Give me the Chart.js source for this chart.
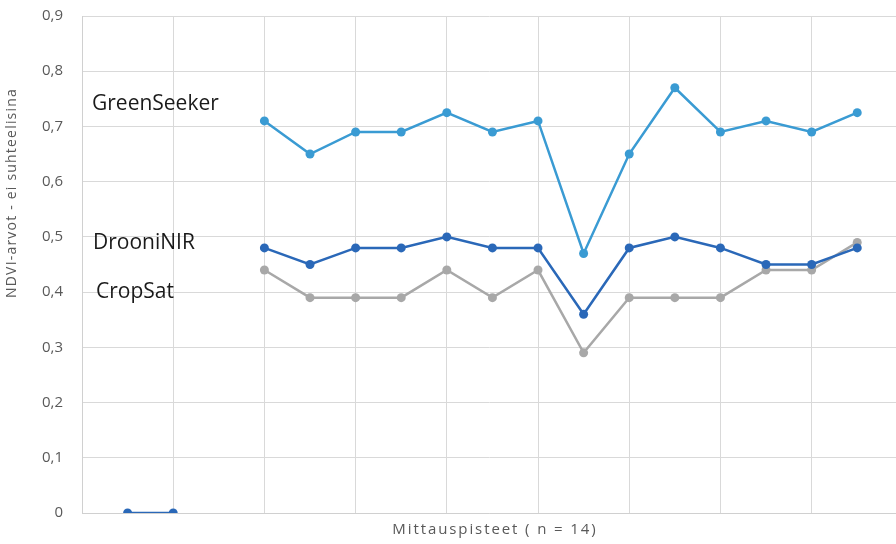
<!DOCTYPE html>
<html>
<head>
<meta charset="utf-8">
<script src="https://cdn.jsdelivr.net/npm/chart.js@4/dist/chart.umd.min.js"></script>
<style>
  html, body { margin: 0; padding: 0; background: #fff; }
  #wrap { width: 896px; height: 544px; }
</style>
</head>
<body>
<div id="wrap"><canvas id="lineChart" width="896" height="544"></canvas></div>
<script>
// mittauspisteet (0 ja 1 = nollapisteet, 3..16 = 14 mittausta)
var pisteet = [0, 1, 2, 3, 4, 5, 6, 7, 8, 9, 10, 11, 12, 13, 14, 15, 16];
var greenSeeker = [null, null, null, 0.71, 0.65, 0.69, 0.69, 0.725, 0.69, 0.71, 0.47, 0.65, 0.77, 0.69, 0.71, 0.69, 0.725];
var drooniNIR = [0, 0, null, 0.48, 0.45, 0.48, 0.48, 0.50, 0.48, 0.48, 0.36, 0.48, 0.50, 0.48, 0.45, 0.45, 0.48];
var cropSat = [null, null, null, 0.44, 0.39, 0.39, 0.39, 0.44, 0.39, 0.44, 0.29, 0.39, 0.39, 0.39, 0.44, 0.44, 0.49];
var yTicks = [0, 0.1, 0.2, 0.3, 0.4, 0.5, 0.6, 0.7, 0.8, 0.9];

function pari(arr) {
    var out = [];
    for (var i = 0; i < pisteet.length; i++) {
        out.push({ x: pisteet[i], y: arr[i] });
    }
    return out;
}

// sarjojen nimet ja akselien otsikot piirretään käsin
var nimet = [
    { teksti: 'GreenSeeker', x: 92, y: 104 },
    { teksti: 'DrooniNIR', x: 93, y: 243 },
    { teksti: 'CropSat', x: 96, y: 292 }
];
var tekstiPlugin = {
    id: 'tekstit',
    afterDraw: function(chart) {
        var ctx = chart.ctx;
        ctx.save();
        ctx.fillStyle = '#1a1a1a';
        ctx.font = '21px "Open Sans", sans-serif';
        ctx.textBaseline = 'middle';
        ctx.textAlign = 'left';
        nimet.forEach(function(n) { ctx.fillText(n.teksti, n.x, n.y); });

        // x-akselin otsikko
        ctx.fillStyle = '#595959';
        ctx.font = '15px "Open Sans", sans-serif';
        ctx.letterSpacing = '1.9px';
        ctx.textAlign = 'center';
        ctx.fillText('Mittauspisteet ( n = 14)', 495, 530);

        // y-akselin otsikko
        ctx.font = '14px "Open Sans", sans-serif';
        ctx.letterSpacing = '1.2px';
        ctx.translate(12, 193);
        ctx.rotate(-Math.PI / 2);
        ctx.fillText('NDVI-arvot - ei suhteelisina', 0, 0);
        ctx.restore();
    }
};

var sarja = function(data, color) {
    return {
        data: pari(data),
        borderColor: color,
        backgroundColor: color,
        borderWidth: 2.5,
        pointRadius: 4.5,
        pointHoverRadius: 4.5,
        pointBorderWidth: 0,
        spanGaps: false,
        tension: 0
    };
};

var ds1 = sarja(greenSeeker, '#3a9bd3'); ds1.label = 'GreenSeeker'; ds1.order = 1;
var ds2 = sarja(drooniNIR, '#2a68b8'); ds2.label = 'DrooniNIR'; ds2.order = 0;
var ds3 = sarja(cropSat, '#a8a8a8'); ds3.label = 'CropSat'; ds3.order = 2;

var ctx = document.getElementById('lineChart').getContext('2d');
var chart = new Chart(ctx, {
    type: 'line',
    data: { datasets: [ds1, ds2, ds3] },
    options: {
        responsive: false,
        animation: false,
        layout: { autoPadding: false, padding: { top: 16, right: 0, left: 0, bottom: 0 } },
        plugins: { legend: { display: false }, tooltip: { enabled: false } },
        scales: {
            x: {
                type: 'linear',
                min: -1,
                max: 16.85,
                afterBuildTicks: function(scale) {
                    var t = [];
                    for (var v = -1; v <= 15; v += 2) t.push({ value: v });
                    scale.ticks = t;
                },
                afterFit: function(scale) {
                    scale.height = 31;
                    scale.paddingLeft = 0;
                    scale.paddingRight = 0;
                },
                ticks: { display: false },
                grid: { color: '#d9d9d9', drawTicks: false, lineWidth: 1 },
                border: { color: '#d0d0d0' },
                title: { display: false }
            },
            y: {
                min: 0,
                max: 0.9,
                afterBuildTicks: function(scale) {
                    scale.ticks = yTicks.map(function(v) { return { value: v }; });
                },
                afterFit: function(scale) {
                    scale.width = 82;
                    scale.paddingTop = 0;
                    scale.paddingBottom = 0;
                },
                ticks: {
                    color: '#595959',
                    padding: 19,
                    font: { family: '"Open Sans", sans-serif', size: 15 },
                    callback: function(v) { return v === 0 ? '0' : v.toFixed(1).replace('.', ','); }
                },
                grid: { color: '#d9d9d9', drawTicks: false },
                border: { color: '#d0d0d0' },
                title: { display: false }
            }
        }
    },
    plugins: [tekstiPlugin]
});
</script>
</body>
</html>
